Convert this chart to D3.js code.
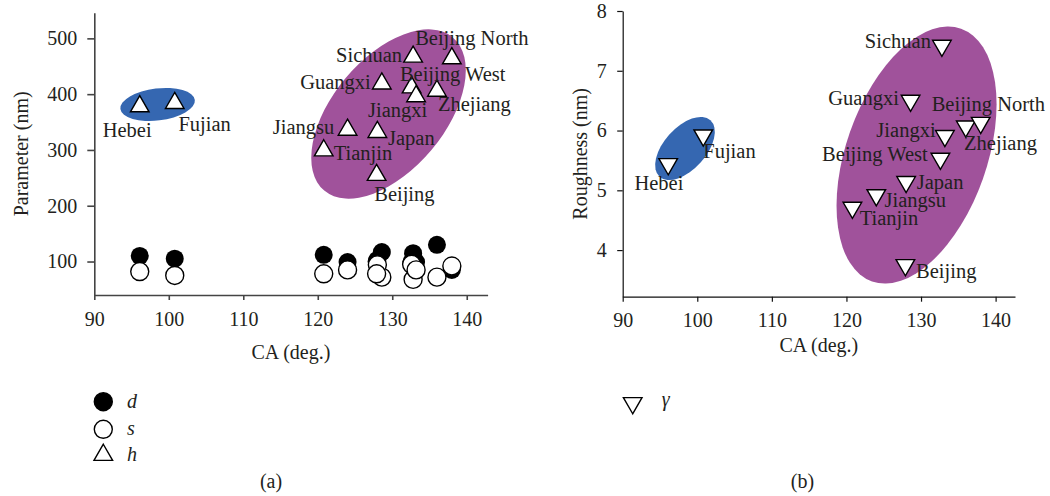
<!DOCTYPE html>
<html>
<head>
<meta charset="utf-8">
<script src="https://cdn.jsdelivr.net/npm/d3@7"></script>
<style>
  body { margin: 0; background: #fff; }
  svg text { font-family: "Liberation Serif", "DejaVu Serif", serif; fill: #231f20; }
</style>
</head>
<body>
<div id="chart"></div>
<script>
// Data
const provinces = ["Hebei", "Fujian", "Tianjin", "Jiangsu", "Guangxi", "Japan", "Beijing",
                   "Sichuan", "Beijing West", "Jiangxi", "Zhejiang", "Beijing North"];
const caValues  = [96.1, 100.8, 120.8, 124.0, 128.6, 128.0, 127.9, 132.8, 132.6, 133.2, 136.0, 138.0];
const dValues   = [110, 105, 112, 99, 117, 103, 100, 115, 100, 99, 130, 85];
const sValues   = [82, 75, 78, 85, 72, 94, 78, 68, 95, 85, 72, 92];
const hValues   = [378, 384, 299, 336, 419, 332, 255, 467, 412, 396, 406, 464];
const roughness = [5.44, 5.92, 4.71, 4.92, 6.50, 5.14, 3.75, 7.42, 5.53, 5.91, 6.07, 6.13];
const xTicks = [90, 100, 110, 120, 130, 140];
const yTicksA = [100, 200, 300, 400, 500];
const yTicksB = [4, 5, 6, 7, 8];

// group ellipses, centre in data units
const groupsA = [
  {cx: 98.5, cy: 381.5, color: "#3567b1"},
  {cx: 129.5, cy: 364.4, color: "#a0529b"}
];
const groupsB = [
  {cx: 98.35, cy: 5.70, color: "#3567b1"},
  {cx: 129.4, cy: 5.59, color: "#a0529b"}
];

// layout
const width = 1050, height = 496;
const fontSize = 20;
const labelSize = 20.5;
const serif = "'Liberation Serif', 'DejaVu Serif', serif";
const ellipseShapeA = [{rx: 37.5, ry: 16, rot: -7}, {rx: 100, ry: 56, rot: -50}];
const ellipseShapeB = [{rx: 38, ry: 21, rot: -48}, {rx: 134, ry: 70.5, rot: -70.6}];

// label offsets from the marker in px: [dx, dy, anchor]
const labelA = {
  "Hebei": [-12.6, 31, "middle"], "Fujian": [3.7, 27.7, "start"],
  "Sichuan": [-11, 5.3, "end"], "Beijing North": [-36.7, -13.3, "start"],
  "Guangxi": [-11, 5.3, "end"], "Beijing West": [-11.7, -6.3, "start"],
  "Zhejiang": [1, 20.3, "start"], "Jiangxi": [-18.5, 20.3, "middle"],
  "Jiangsu": [-13.3, 4.3, "end"], "Japan": [10.6, 13, "start"],
  "Tianjin": [10, 9.6, "start"], "Beijing": [-2.4, 26, "start"]
};
const labelB = {
  "Hebei": [-9.3, 26.3, "middle"], "Fujian": [0, 22.6, "start"],
  "Sichuan": [-11, 2, "end"], "Beijing North": [-49, -11.7, "start"],
  "Guangxi": [-11.7, 4.6, "end"], "Beijing West": [-12.7, 2.7, "end"],
  "Zhejiang": [-1.7, 23.3, "start"], "Jiangxi": [-9.3, 1, "end"],
  "Jiangsu": [8.3, 12, "start"], "Japan": [10.7, 7, "start"],
  "Tianjin": [7.3, 17.5, "start"], "Beijing": [10.7, 12.6, "start"]
};

const rows = provinces.map((p, i) => ({
  name: p, ca: caValues[i], d: dValues[i], s: sValues[i], h: hValues[i], r: roughness[i]
}));

let svg = d3.select("#chart").append("svg")
  .attr("width", width)
  .attr("height", height)
  .attr("font-family", serif);

const triUp = d3.symbol().type(d3.symbolTriangle).size(150);

function styleAxis(g, color, w) {
  g.attr("font-family", serif).attr("font-size", fontSize);
  g.select(".domain").attr("stroke", color).attr("stroke-width", w);
  g.selectAll(".tick line").attr("stroke", color).attr("stroke-width", w);
  g.selectAll(".tick text").attr("fill", "#231f20");
}

// ---------- Panel (a) ----------
let xA = d3.scaleLinear().domain([90, 142.8]).range([94.3, 487.6]);
let yA = d3.scaleLinear().domain([40, 546]).range([295, 12.7]);

groupsA.forEach((g, i) => {
  const sh = ellipseShapeA[i];
  svg.append("ellipse")
    .attr("transform", `translate(${xA(g.cx)},${yA(g.cy)}) rotate(${sh.rot})`)
    .attr("rx", sh.rx).attr("ry", sh.ry)
    .attr("fill", g.color);
});

let gxA = svg.append("g")
  .attr("transform", `translate(0,${yA.range()[0]})`)
  .call(d3.axisBottom(xA).tickValues(xTicks).tickFormat(d3.format("d"))
    .tickSize(5).tickSizeOuter(0).tickPadding(12));
styleAxis(gxA, "#444", 1.6);

let gyA = svg.append("g")
  .attr("transform", `translate(${xA.range()[0]},0)`)
  .call(d3.axisLeft(yA).tickValues(yTicksA).tickFormat(d3.format("d"))
    .tickSize(7).tickSizeOuter(0).tickPadding(10));
styleAxis(gyA, "#444", 1.6);

svg.append("text")
  .attr("x", (xA.range()[0] + xA.range()[1]) / 2).attr("y", 359)
  .attr("text-anchor", "middle").attr("font-size", fontSize)
  .text("CA (deg.)");

svg.append("text")
  .attr("transform", `translate(28.3,${(yA.range()[0] + yA.range()[1]) / 2}) rotate(-90)`)
  .attr("text-anchor", "middle").attr("font-size", fontSize)
  .text("Parameter (nm)");

// d (filled) under s (open)
svg.append("g").selectAll("circle")
  .data(rows).enter().append("circle")
  .attr("cx", d => xA(d.ca)).attr("cy", d => yA(d.d))
  .attr("r", 9).attr("fill", "#000");

svg.append("g").selectAll("circle")
  .data(rows).enter().append("circle")
  .attr("cx", d => xA(d.ca)).attr("cy", d => yA(d.s))
  .attr("r", 9).attr("fill", "#fff").attr("stroke", "#000").attr("stroke-width", 1.4);

svg.append("g").selectAll("path")
  .data(rows).enter().append("path")
  .attr("d", triUp)
  .attr("transform", d => `translate(${xA(d.ca)},${yA(d.h)})`)
  .attr("fill", "#fff").attr("stroke", "#000").attr("stroke-width", 1.4);

svg.append("g").selectAll("text")
  .data(rows).enter().append("text")
  .attr("x", d => xA(d.ca) + labelA[d.name][0])
  .attr("y", d => yA(d.h) + labelA[d.name][1])
  .attr("text-anchor", d => labelA[d.name][2])
  .attr("font-size", labelSize)
  .text(d => d.name);

// legend (a)
const legendA = [
  {key: "d", y: 401.7, shape: "dot"},
  {key: "s", y: 429.3, shape: "ring"},
  {key: "h", y: 455, shape: "tri"}
];
legendA.forEach(l => {
  if (l.shape === "tri") {
    svg.append("path").attr("d", triUp)
      .attr("transform", `translate(103.3,${l.y})`)
      .attr("fill", "#fff").attr("stroke", "#000").attr("stroke-width", 1.4);
  } else {
    svg.append("circle").attr("cx", 103.3).attr("cy", l.y).attr("r", 9)
      .attr("fill", l.shape === "dot" ? "#000" : "#fff")
      .attr("stroke", "#000").attr("stroke-width", 1.4);
  }
  svg.append("text").attr("x", 127).attr("y", l.y + 6)
    .attr("font-size", fontSize).attr("font-style", "italic")
    .text(l.key);
});

svg.append("text").attr("x", 271).attr("y", 488)
  .attr("text-anchor", "middle").attr("font-size", fontSize).text("(a)");

// ---------- Panel (b) ----------
let xB = d3.scaleLinear().domain([90, 142.6]).range([622.7, 1015]);
let yB = d3.scaleLinear().domain([3.22, 8]).range([296.7, 11]);

groupsB.forEach((g, i) => {
  const sh = ellipseShapeB[i];
  svg.append("ellipse")
    .attr("transform", `translate(${xB(g.cx)},${yB(g.cy)}) rotate(${sh.rot})`)
    .attr("rx", sh.rx).attr("ry", sh.ry)
    .attr("fill", g.color);
});

let gxB = svg.append("g")
  .attr("transform", `translate(0,${yB.range()[0]})`)
  .call(d3.axisBottom(xB).tickValues(xTicks).tickFormat(d3.format("d"))
    .tickSize(5).tickSizeOuter(0).tickPadding(11));
styleAxis(gxB, "#111", 1.2);

let gyB = svg.append("g")
  .attr("transform", `translate(${xB.range()[0]},0)`)
  .call(d3.axisLeft(yB).tickValues(yTicksB).tickFormat(d3.format("d"))
    .tickSize(5.5).tickSizeOuter(0).tickPadding(10.5));
styleAxis(gyB, "#111", 1.2);

svg.append("text")
  .attr("x", (xB.range()[0] + xB.range()[1]) / 2).attr("y", 352)
  .attr("text-anchor", "middle").attr("font-size", fontSize)
  .text("CA (deg.)");

svg.append("text")
  .attr("transform", `translate(586.6,${(yB.range()[0] + yB.range()[1]) / 2}) rotate(-90)`)
  .attr("text-anchor", "middle").attr("font-size", fontSize)
  .text("Roughness (nm)");

svg.append("g").selectAll("path")
  .data(rows).enter().append("path")
  .attr("d", triUp)
  .attr("transform", d => `translate(${xB(d.ca)},${yB(d.r)}) rotate(180)`)
  .attr("fill", "#fff").attr("stroke", "#000").attr("stroke-width", 1.4);

svg.append("g").selectAll("text")
  .data(rows).enter().append("text")
  .attr("x", d => xB(d.ca) + labelB[d.name][0])
  .attr("y", d => yB(d.r) + labelB[d.name][1])
  .attr("text-anchor", d => labelB[d.name][2])
  .attr("font-size", labelSize)
  .text(d => d.name);

// legend (b)
svg.append("path").attr("d", triUp)
  .attr("transform", "translate(632.7,403) rotate(180)")
  .attr("fill", "#fff").attr("stroke", "#000").attr("stroke-width", 1.4);
svg.append("text").attr("x", 661.7).attr("y", 406)
  .attr("font-size", fontSize).attr("font-style", "italic").text("γ");

svg.append("text").attr("x", 802.5).attr("y", 488)
  .attr("text-anchor", "middle").attr("font-size", fontSize).text("(b)");
</script>
</body>
</html>
